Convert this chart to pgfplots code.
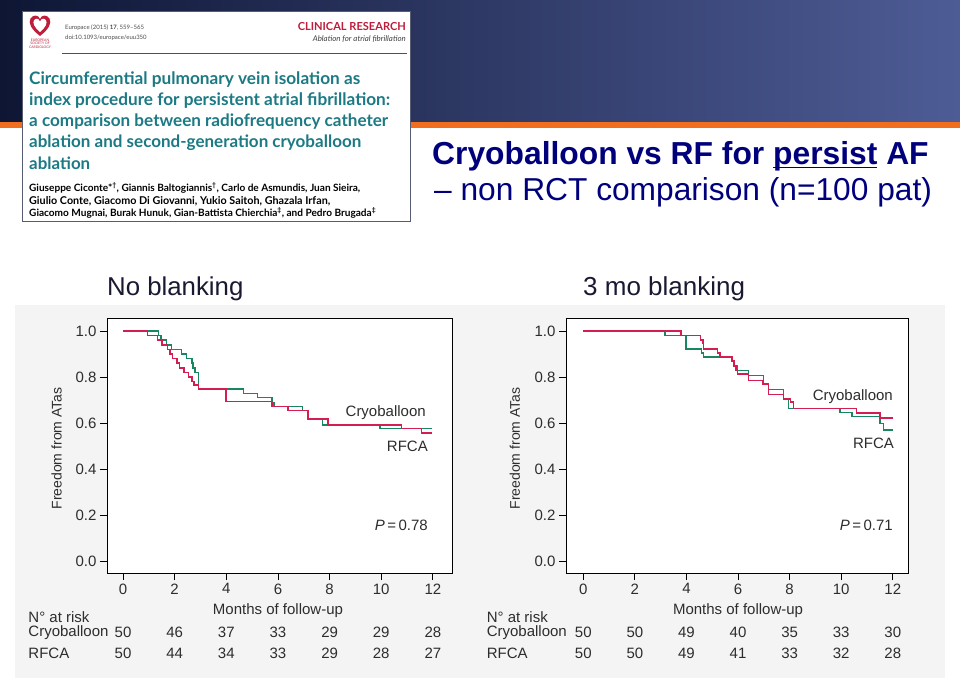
\documentclass[border=0pt]{standalone}
\usepackage{pgfplots}
\pgfplotsset{compat=1.18}
\usepackage{fontspec}
\setmainfont{Liberation Sans}
\newfontfamily\paperfont{Lato}
\definecolor{cryo}{RGB}{24,135,95}
\definecolor{rfca}{RGB}{212,30,82}
\definecolor{navytitle}{RGB}{0,0,125}
\definecolor{hdrdark}{RGB}{14,22,52}
\definecolor{hdrlight}{RGB}{78,92,150}
\definecolor{orangeband}{RGB}{240,110,30}
\definecolor{tealt}{RGB}{28,122,132}
\definecolor{crimson}{RGB}{190,30,60}
\definecolor{subcol}{RGB}{25,25,50}
\definecolor{figbg}{RGB}{244,244,244}
\definecolor{plottext}{RGB}{45,45,45}
\newcommand{\fs}[1]{\fontsize{#1}{#1}\selectfont}
\newcommand{\ul}[1]{\setbox0\hbox{#1}\rlap{\rule[-3.5pt]{\wd0}{1.8pt}}\box0\relax}

\pgfplotsset{kmstyle/.style={
  scale only axis, height=255pt, clip=false,
  ymin=-0.05, ymax=1.056,
  xtick={0,2,4,6,8,10,12},
  ytick={0,0.2,0.4,0.6,0.8,1.0},
  yticklabels={0.0,0.2,0.4,0.6,0.8,1.0},
  xtick pos=left, ytick pos=left,
  tick align=outside, major tick length=7pt,
  tick style={black, line width=0.8pt},
  axis line style={black, line width=0.9pt},
  axis background/.style={fill=white},
  /pgf/number format/assume math mode=true,
  ticklabel style={font=\fs{15}, text=plottext},
}}
\pgfplotsset{km/.style={const plot, line width=1.6pt, #1}}
\pgfplotsset{risk/.style={draw=none, mark=none, nodes near coords, point meta=explicit symbolic,
  every node near coord/.append style={anchor=center, font=\fs{15}, text=plottext, inner sep=0pt}}}

\begin{document}
\begin{tikzpicture}
\begin{scope}[x=1pt,y=1pt]
\useasboundingbox (0,0) rectangle (960,678);
\fill[white] (0,0) rectangle (960,678);
\shade[left color=hdrdark, right color=hdrlight] (0,556) rectangle (960,678);
\fill[orangeband] (0,550) rectangle (960,556);
\fill[figbg] (15,0) rectangle (945,373);

% article snippet
\draw[fill=white, draw=hdrdark!70, line width=0.8pt] (22.7,456.3) rectangle (410.7,666.3);
\fill[crimson] (40,642) .. controls (31,649) and (28,655) .. (30.5,659.5) .. controls (33,663.5) and (38.5,663.5) .. (40,659) .. controls (41.5,663.5) and (47,663.5) .. (49.5,659.5) .. controls (52,655) and (49,649) .. (40,642) -- cycle;
\fill[white] (40,646) .. controls (34,651) and (32.5,655) .. (34,657.5) .. controls (35.5,660) and (38.5,660) .. (40,656.5) .. controls (41.5,660) and (44.5,660) .. (46,657.5) .. controls (47.5,655) and (46,651) .. (40,646) -- cycle;
\node[font=\paperfont\fs{3.4}, text=crimson, align=center, inner sep=0] at (40,634.5) {EUROPEAN\\SOCIETY OF\\CARDIOLOGY};
\node[anchor=west, inner sep=0, font=\paperfont\fs{6}, text=black!70] at (65,650) {Europace (2015) \textbf{17}, 559–565};
\node[anchor=west, inner sep=0, font=\paperfont\fs{6}, text=black!70] at (65,640) {doi:10.1093/europace/euu350};
\node[anchor=east, inner sep=0] at (406,651) {\resizebox{108pt}{!}{\paperfont\bfseries\fs{11}\color{crimson}CLINICAL RESEARCH}};
\node[anchor=east, inner sep=0] at (406,639) {\resizebox{93pt}{!}{\paperfont\itshape\fs{7.5}\color{black!75}Ablation for atrial fibrillation}};
\draw[crimson, line width=0.8pt] (62,624.7) -- (407,624.7);
\node[anchor=west, inner sep=0] at (29,598) {\resizebox{331pt}{!}{\paperfont\bfseries\fs{15}\color{tealt}Circumferential pulmonary vein isolation as}};
\node[anchor=west, inner sep=0] at (29,577) {\resizebox{361pt}{!}{\paperfont\bfseries\fs{15}\color{tealt}index procedure for persistent atrial fibrillation:}};
\node[anchor=west, inner sep=0] at (29,556) {\resizebox{359pt}{!}{\paperfont\bfseries\fs{15}\color{tealt}a comparison between radiofrequency catheter}};
\node[anchor=west, inner sep=0] at (29,535) {\resizebox{332pt}{!}{\paperfont\bfseries\fs{15}\color{tealt}ablation and second-generation cryoballoon}};
\node[anchor=west, inner sep=0] at (29,515) {\resizebox{61pt}{!}{\paperfont\bfseries\fs{15}\color{tealt}ablation}};
\node[anchor=west, inner sep=0] at (29,490) {\resizebox{331pt}{!}{\paperfont\bfseries\fs{9}Giuseppe Ciconte*\textsuperscript{†}, Giannis Baltogiannis\textsuperscript{†}, Carlo de Asmundis, Juan Sieira,}};
\node[anchor=west, inner sep=0] at (29,477) {\resizebox{301pt}{!}{\paperfont\bfseries\fs{9}Giulio Conte, Giacomo Di Giovanni, Yukio Saitoh, Ghazala Irfan,}};
\node[anchor=west, inner sep=0] at (29,465) {\resizebox{347pt}{!}{\paperfont\bfseries\fs{9}Giacomo Mugnai, Burak Hunuk, Gian-Battista Chierchia\textsuperscript{‡}, and Pedro Brugada\textsuperscript{‡}}};

% slide title
\node[anchor=base west, inner sep=0, text=navytitle] at (432,513) {\fs{31.8}\bfseries Cryoballoon vs RF for \ul{persist} AF};
\node[anchor=base west, inner sep=0, text=navytitle] at (434,477) {\fs{31.7}– non RCT comparison (n=100 pat)};

\node[anchor=base west, inner sep=0, text=subcol] at (107,382) {\fs{25.8}No blanking};
\node[anchor=base west, inner sep=0, text=subcol] at (583,382) {\fs{26}3 mo blanking};
\end{scope}

% ---------- left: no blanking ----------
\begin{axis}[kmstyle, at={(107pt,105pt)}, anchor=south west, width=345pt, xmin=-0.62, xmax=12.74]
\addplot[km=cryo] coordinates {
(0,1) (1.37,0.98) (1.47,0.96) (1.69,0.94) (1.88,0.92) (2.27,0.90) (2.46,0.88)
(2.66,0.86) (2.72,0.84) (2.78,0.82) (2.92,0.747) (4.66,0.729) (5.21,0.711)
(5.76,0.69) (5.85,0.672) (6.95,0.654) (7.17,0.618) (7.72,0.592) (9.95,0.577) (11.98,0.577)};
\addplot[km=rfca] coordinates {
(0,1) (0.955,0.98) (1.34,0.96) (1.50,0.94) (1.72,0.92) (1.82,0.90) (1.91,0.88)
(2.08,0.86) (2.18,0.84) (2.37,0.82) (2.53,0.80) (2.66,0.78) (2.76,0.765) (2.92,0.747)
(3.98,0.693) (5.76,0.672) (6.40,0.654) (7.17,0.618) (7.93,0.592) (10.79,0.577)
(11.56,0.556) (11.98,0.556)};
\addplot[risk] coordinates {(0,-0.307)[50] (2,-0.307)[46] (4,-0.307)[37] (6,-0.307)[33] (8,-0.307)[29] (10,-0.307)[29] (12,-0.307)[28]};
\addplot[risk] coordinates {(0,-0.398)[50] (2,-0.398)[44] (4,-0.398)[34] (6,-0.398)[33] (8,-0.398)[29] (10,-0.398)[28] (12,-0.398)[27]};
\node[anchor=east, inner sep=0, font=\fs{15}, text=plottext] at (axis cs:11.73,0.644) {Cryoballoon};
\node[anchor=east, inner sep=0, font=\fs{15}, text=plottext] at (axis cs:11.81,0.501) {RFCA};
\node[anchor=east, inner sep=0, font=\fs{15}, text=plottext] at (axis cs:11.81,0.158) {\textit{P}\,=\,0.78};
\node[font=\fs{15}, text=plottext] at (axis cs:6,-0.215) {Months of follow-up};
\node[rotate=90, font=\fs{14}, text=plottext] at (axis cs:-2.57,0.49) {Freedom from ATas};
\node[anchor=west, inner sep=0, font=\fs{15}, text=plottext] at (axis cs:-3.67,-0.24) {N° at risk};
\node[anchor=west, inner sep=0, font=\fs{15}, text=plottext] at (axis cs:-3.67,-0.307) {Cryoballoon};
\node[anchor=west, inner sep=0, font=\fs{15}, text=plottext] at (axis cs:-3.67,-0.398) {RFCA};
\end{axis}

% ---------- right: 3 mo blanking ----------
\begin{axis}[kmstyle, at={(566pt,105pt)}, anchor=south west, width=342pt, xmin=-0.67, xmax=12.59]
\addplot[km=cryo] coordinates {
(0,1) (3.17,0.98) (3.98,0.922) (4.59,0.905) (4.66,0.887) (5.76,0.869) (5.85,0.848)
(5.95,0.829) (6.40,0.807) (6.98,0.771) (7.18,0.746) (7.76,0.705) (7.95,0.664)
(9.96,0.647) (10.41,0.628) (11.51,0.599) (11.64,0.57) (12.0,0.57)};
\addplot[km=rfca] coordinates {
(0,1) (3.78,0.98) (4.55,0.96) (4.63,0.945) (4.66,0.922) (5.20,0.905) (5.30,0.887)
(5.76,0.869) (5.85,0.848) (5.92,0.83) (5.98,0.814) (6.40,0.785) (6.96,0.771)
(7.18,0.724) (7.76,0.705) (8.04,0.691) (8.15,0.664) (10.6,0.643) (11.51,0.621) (12.0,0.621)};
\addplot[risk] coordinates {(0,-0.307)[50] (2,-0.307)[50] (4,-0.307)[49] (6,-0.307)[40] (8,-0.307)[35] (10,-0.307)[33] (12,-0.307)[30]};
\addplot[risk] coordinates {(0,-0.398)[50] (2,-0.398)[50] (4,-0.398)[49] (6,-0.398)[41] (8,-0.398)[33] (10,-0.398)[32] (12,-0.398)[28]};
\node[anchor=east, inner sep=0, font=\fs{15}, text=plottext] at (axis cs:12.01,0.714) {Cryoballoon};
\node[anchor=east, inner sep=0, font=\fs{15}, text=plottext] at (axis cs:12.05,0.514) {RFCA};
\node[anchor=east, inner sep=0, font=\fs{15}, text=plottext] at (axis cs:12.01,0.158) {\textit{P}\,=\,0.71};
\node[font=\fs{15}, text=plottext] at (axis cs:6,-0.215) {Months of follow-up};
\node[rotate=90, font=\fs{14}, text=plottext] at (axis cs:-2.65,0.49) {Freedom from ATas};
\node[anchor=west, inner sep=0, font=\fs{15}, text=plottext] at (axis cs:-3.75,-0.24) {N° at risk};
\node[anchor=west, inner sep=0, font=\fs{15}, text=plottext] at (axis cs:-3.75,-0.307) {Cryoballoon};
\node[anchor=west, inner sep=0, font=\fs{15}, text=plottext] at (axis cs:-3.75,-0.398) {RFCA};
\end{axis}
\end{tikzpicture}
\end{document}
